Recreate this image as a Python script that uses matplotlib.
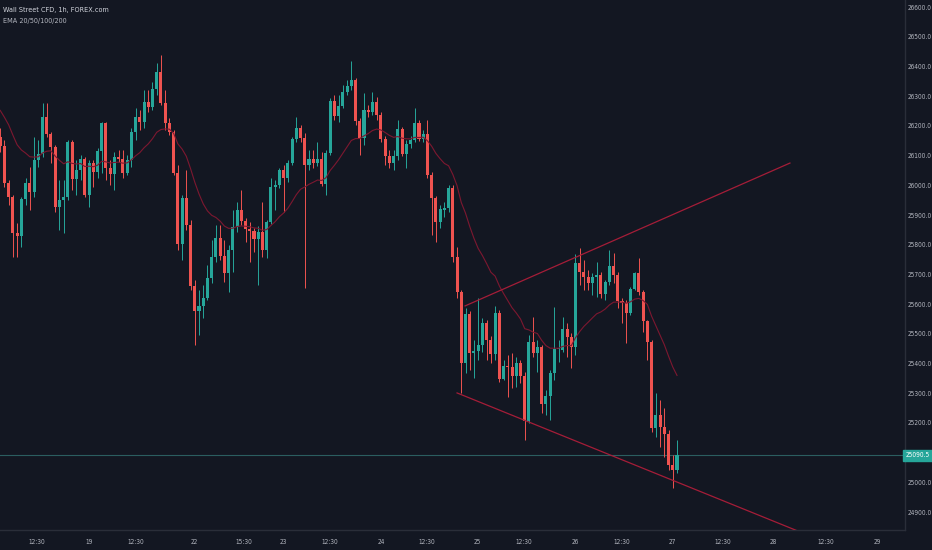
import matplotlib
matplotlib.use('Agg')
import matplotlib.pyplot as plt
from matplotlib import font_manager
import numpy as np

# Wall Street CFD, 1h bars (OHLC)
opens = [
    26163, 26132, 26008, 25961, 25840, 25829, 25954, 26008, 25978, 26085,
    26105, 26230, 26173, 26129, 25927, 25951, 25961, 26146, 26021, 26052,
    26089, 25967, 26075, 26045, 26116, 26210, 26058, 26038, 26097, 26090,
    26042, 26085, 26180, 26230, 26213, 26281, 26264, 26324, 26382, 26277,
    26210, 26180, 26042, 25802, 25957, 25866, 25661, 25577, 25594, 25621,
    25688, 25759, 25823, 25762, 25705, 25782, 25860, 25917, 25880, 25853,
    25846, 25819, 25843, 25782, 25877, 25994, 26001, 26052, 26025, 26075,
    26156, 26193, 26159, 26068, 26089, 26075, 26089, 26004, 26109, 26284,
    26233, 26267, 26314, 26334, 26355, 26217, 26159, 26254, 26247, 26281,
    26237, 26156, 26099, 26075, 26099, 26190, 26105, 26139, 26153, 26210,
    26156, 26173, 26035, 25957, 25877, 25917, 25924, 25991, 25759, 25641,
    25402, 25567, 25435, 25442, 25462, 25537, 25479, 25432, 25570, 25348,
    25392, 25388, 25358, 25402, 25358, 25207, 25473, 25435, 25456, 25264,
    25291, 25368, 25449, 25446, 25516, 25489, 25456, 25739, 25708, 25691,
    25671, 25691, 25698, 25634, 25674, 25728, 25698, 25610, 25604, 25570,
    25651, 25705, 25641, 25543, 25473, 25183, 25227, 25186, 25163, 25058,
    25042,
]
highs = [
    26193, 26153, 26018, 25967, 25873, 25961, 26025, 26062, 26163, 26153,
    26277, 26277, 26180, 26136, 26018, 26018, 26153, 26153, 26085, 26102,
    26095, 26085, 26085, 26126, 26213, 26213, 26085, 26112, 26119, 26119,
    26102, 26193, 26260, 26254, 26321, 26321, 26348, 26412, 26439, 26321,
    26227, 26186, 26068, 25967, 26052, 25883, 25681, 25648, 25664, 25732,
    25816, 25866, 25866, 25816, 25799, 25917, 25944, 25984, 25890, 25876,
    25856, 25863, 25944, 25883, 26025, 26018, 26058, 26068, 26085, 26163,
    26230, 26203, 26176, 26119, 26119, 26146, 26112, 26119, 26294, 26304,
    26304, 26338, 26355, 26419, 26361, 26227, 26311, 26270, 26314, 26297,
    26247, 26166, 26119, 26119, 26220, 26196, 26153, 26166, 26260, 26220,
    26186, 26220, 26045, 25964, 25934, 25944, 26001, 26001, 25792, 25648,
    25587, 25577, 25479, 25621, 25553, 25547, 25493, 25594, 25580, 25412,
    25429, 25435, 25422, 25412, 25372, 25496, 25557, 25479, 25462, 25311,
    25378, 25590, 25479, 25557, 25537, 25503, 25769, 25789, 25749, 25715,
    25705, 25742, 25708, 25681, 25782, 25772, 25708, 25621, 25614, 25658,
    25708, 25755, 25648, 25547, 25479, 25301, 25277, 25250, 25176, 25092,
    25143,
]
lows = [
    26112, 25994, 25934, 25759, 25759, 25792, 25934, 25917, 25961, 26062,
    26095, 26163, 26075, 25910, 25850, 25840, 25951, 25984, 25967, 26018,
    25961, 25927, 25994, 26025, 26042, 26018, 26001, 25984, 26079, 26025,
    26035, 26062, 26153, 26186, 26193, 26247, 26254, 26304, 26270, 26186,
    26169, 26035, 25782, 25749, 25850, 25648, 25462, 25496, 25553, 25614,
    25671, 25742, 25749, 25674, 25641, 25708, 25843, 25866, 25809, 25742,
    25775, 25664, 25759, 25755, 25870, 25917, 25991, 25910, 26011, 26068,
    26146, 26146, 25654, 26052, 26058, 26065, 25998, 25967, 26102, 26220,
    26213, 26260, 26304, 26321, 26203, 26102, 26136, 26230, 26237, 26220,
    26146, 26068, 26058, 26052, 26085, 26099, 26058, 26126, 26146, 26149,
    26146, 26025, 25833, 25809, 25856, 25893, 25910, 25742, 25621, 25301,
    25368, 25378, 25351, 25412, 25439, 25412, 25402, 25412, 25338, 25345,
    25287, 25318, 25321, 25334, 25143, 25200, 25422, 25372, 25233, 25227,
    25210, 25345, 25405, 25439, 25422, 25385, 25429, 25664, 25648, 25648,
    25631, 25624, 25621, 25614, 25664, 25671, 25587, 25537, 25469, 25563,
    25648, 25631, 25506, 25412, 25169, 25153, 25119, 25085, 25042, 24981,
    25031,
]
closes = [
    26132, 26008, 25961, 25840, 25829, 25954, 26008, 25978, 26085, 26105,
    26230, 26173, 26129, 25927, 25951, 25961, 26146, 26021, 26052, 26089,
    25967, 26075, 26045, 26116, 26210, 26058, 26038, 26095, 26088, 26042,
    26085, 26180, 26230, 26213, 26281, 26264, 26324, 26382, 26277, 26210,
    26180, 26042, 25802, 25957, 25866, 25661, 25577, 25594, 25621, 25688,
    25759, 25823, 25762, 25705, 25782, 25860, 25917, 25880, 25853, 25846,
    25819, 25843, 25782, 25877, 25994, 26001, 26052, 26025, 26075, 26156,
    26193, 26159, 26068, 26089, 26075, 26089, 26004, 26109, 26284, 26233,
    26267, 26314, 26334, 26355, 26217, 26159, 26254, 26247, 26281, 26237,
    26156, 26099, 26075, 26099, 26190, 26105, 26139, 26153, 26210, 26156,
    26173, 26035, 25957, 25877, 25920, 25924, 25991, 25759, 25641, 25402,
    25567, 25435, 25442, 25462, 25537, 25479, 25432, 25570, 25348, 25392,
    25388, 25358, 25402, 25358, 25207, 25473, 25435, 25456, 25264, 25291,
    25368, 25449, 25452, 25516, 25489, 25456, 25739, 25708, 25691, 25671,
    25691, 25698, 25634, 25674, 25728, 25698, 25610, 25604, 25570, 25651,
    25705, 25641, 25543, 25473, 25183, 25227, 25186, 25163, 25058, 25042,
    25090.5,
]

# EMA 20 value just before the first visible bar
ema_seed = 26265
ema_len = 20

# hand-drawn trend lines: (bar index, price)
upper_line = [(109.9, 25594), (186.7, 26075)]
lower_line = [(108.0, 25301), (189.1, 24833)]

# time axis labels (bar index position, text)
tick_pos = [8.7, 21.0, 32.1, 45.8, 57.6, 66.9, 78.0, 90.0, 100.9,
            112.9, 123.8, 135.9, 147.0, 158.8, 170.9, 182.7, 195.2, 207.3]
tick_labels = ['12:30', '19', '12:30', '22', '15:30', '23', '12:30', '24', '12:30',
               '25', '12:30', '26', '12:30', '27', '12:30', '28', '12:30', '29']
price_ticks = list(range(24900, 26700, 100))

BG = '#131722'
UP = '#26a69a'
DOWN = '#ef5350'
TXT = '#b2b5be'
BORDER = '#2a2e39'

# narrow font for the small axis texts, if one is installed
narrow = [f for f in font_manager.fontManager.ttflist
          if ('Narrow' in f.name or f.stretch in ('condensed', 'semi-condensed'))
          and f.style == 'normal' and f.weight in (400, 'normal', 'regular')]
if narrow:
    fp = font_manager.FontProperties(fname=narrow[0].fname)
    lab_size = 4.7
else:
    fp = font_manager.FontProperties(family=['Liberation Sans', 'DejaVu Sans'])
    lab_size = 4.2

o = np.array(opens, dtype=float)
h = np.array(highs, dtype=float)
l = np.array(lows, dtype=float)
c = np.array(closes, dtype=float)
idx = np.arange(len(c))
colors = np.where(c >= o, UP, DOWN)

# EMA
alpha = 2.0 / (ema_len + 1)
ema = []
prev = ema_seed
for v in c:
    prev = prev + alpha * (v - prev)
    ema.append(prev)

W, H = 932, 550
fig = plt.figure(figsize=(W / 100, H / 100), dpi=100, facecolor=BG)
ax = fig.add_axes([0, 1 - 530 / H, 905 / W, 530 / H])
ax.set_facecolor(BG)

ax.set_xlim(-0.05, 213.9)
ax.set_ylim(24839.5, 26624)

# wicks + bodies
ax.vlines(idx, l, h, colors=colors, linewidth=0.7, zorder=2)
body_bot = np.minimum(o, c)
body_h = np.maximum(np.abs(c - o), 2.0)
ax.bar(idx, body_h, bottom=body_bot, width=0.72, color=colors, linewidth=0, zorder=3)

# EMA line
ax.plot(idx, ema, color='#7d1830', linewidth=0.8, zorder=4)

# trend lines
for line in (upper_line, lower_line):
    xs = [p[0] for p in line]
    ys = [p[1] for p in line]
    ax.plot(xs, ys, color='#a51d38', linewidth=0.9, zorder=4)

# last price line + label (it hides the nearby scale label)
last = c[-1]
ax.axhline(last, color='#2b5e60', linewidth=0.8, zorder=1)
ax.annotate(f'{last:.1f}', xy=(1.0, last), xycoords=('axes fraction', 'data'),
            xytext=(9.5, 0), textcoords='offset points', ha='center', va='center',
            fontproperties=fp, fontsize=lab_size, color='white', annotation_clip=False,
            bbox=dict(boxstyle='square,pad=0.45', facecolor=UP, edgecolor=UP))
shown_ticks = [p for p in price_ticks if abs(p - last) > 40]

# axes styling
for side in ('top', 'left'):
    ax.spines[side].set_visible(False)
for side in ('right', 'bottom'):
    ax.spines[side].set_color(BORDER)
    ax.spines[side].set_linewidth(1.0)

ax.yaxis.tick_right()
ax.set_yticks(shown_ticks)
ax.set_yticklabels([f'{p:.1f}' for p in shown_ticks])
ax.set_xticks(tick_pos)
ax.set_xticklabels(tick_labels)
ax.tick_params(axis='both', length=0, colors=TXT)
ax.tick_params(axis='y', pad=2.2)
ax.tick_params(axis='x', pad=6.5)
for t in ax.get_xticklabels() + ax.get_yticklabels():
    t.set_fontproperties(fp)
    t.set_fontsize(lab_size)

fig.text(3 / W, 1 - 10 / H, 'Wall Street CFD, 1h, FOREX.com', fontproperties=fp,
         fontsize=lab_size + 0.5, color='#d1d4dc', ha='left', va='center')
fig.text(3 / W, 1 - 21 / H, 'EMA 20/50/100/200', fontproperties=fp,
         fontsize=lab_size + 0.5, color=TXT, ha='left', va='center')

fig.savefig('out.png', dpi=100, facecolor=BG)
